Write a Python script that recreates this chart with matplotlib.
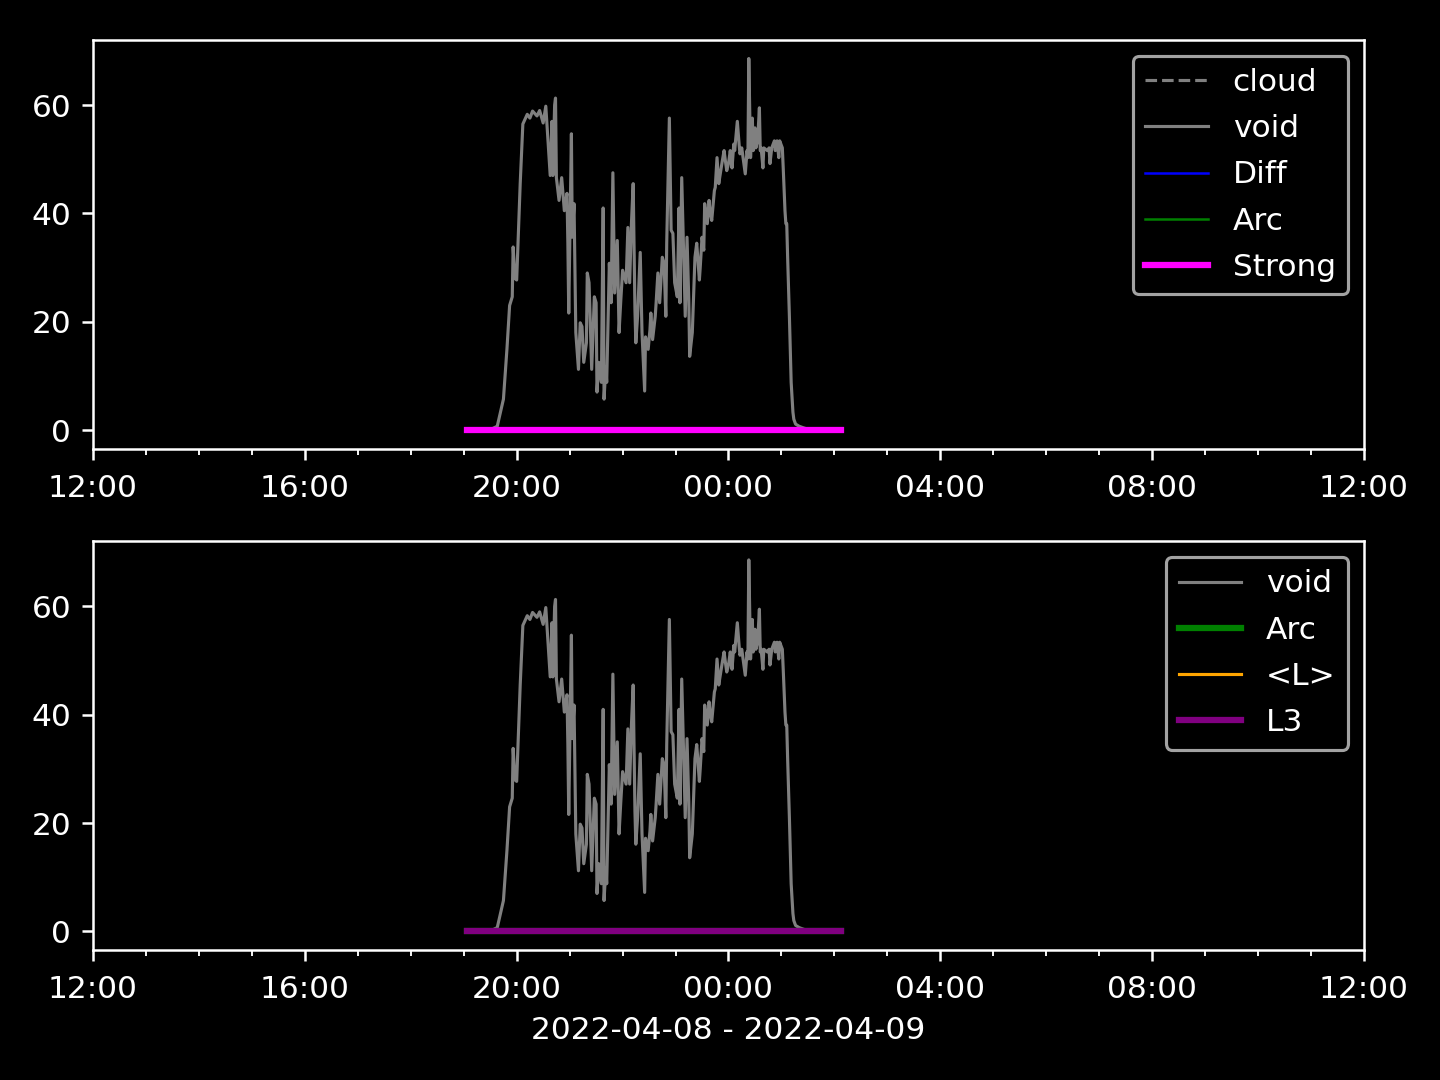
import pandas as pd
import numpy as np
import matplotlib
matplotlib.use("Agg")
import matplotlib.pyplot as plt
import matplotlib.dates as mdates

DAY = "2022-04-08"

# void reading, clock times (before noon = next day)
void_times = [
    "19:04", "19:18", "19:30", "19:38", "19:45", "19:49", "19:52", "19:55", "19:56", "19:58",
    "20:00", "20:04", "20:07", "20:12", "20:15", "20:18", "20:23", "20:26", "20:30", "20:33",
    "20:35", "20:38", "20:40", "20:41", "20:43", "20:44", "20:45", "20:48", "20:51", "20:54",
    "20:57", "20:58", "20:59", "21:02", "21:03", "21:05", "21:07", "21:10", "21:12", "21:14",
    "21:16", "21:19", "21:20", "21:22", "21:24", "21:25", "21:28", "21:30", "21:31", "21:33",
    "21:36", "21:38", "21:39", "21:41", "21:42", "21:45", "21:47", "21:49", "21:51", "21:54",
    "21:56", "21:58", "22:00", "22:04", "22:06", "22:08", "22:10", "22:12", "22:14", "22:15",
    "22:17", "22:20", "22:22", "22:25", "22:26", "22:29", "22:31", "22:32", "22:34", "22:37",
    "22:38", "22:40", "22:42", "22:45", "22:47", "22:49", "22:50", "22:53", "22:55", "22:57",
    "22:59", "23:02", "23:04", "23:05", "23:07", "23:10", "23:11", "23:13", "23:15", "23:16",
    "23:19", "23:21", "23:22", "23:24", "23:27", "23:28", "23:30", "23:32", "23:33", "23:36",
    "23:38", "23:39", "23:41", "23:44", "23:45", "23:47", "23:49", "23:50", "23:53", "23:55",
    "23:56", "23:58", "00:00", "00:02", "00:04", "00:06", "00:07", "00:10", "00:12", "00:13",
    "00:15", "00:17", "00:19", "00:21", "00:22", "00:23", "00:25", "00:27", "00:28", "00:30",
    "00:31", "00:33", "00:35", "00:36", "00:37", "00:39", "00:40", "00:44", "00:46", "00:47",
    "00:49", "00:52", "00:53", "00:55", "00:57", "00:58", "01:01", "01:02", "01:04", "01:05",
    "01:06", "01:07", "01:09", "01:11", "01:13", "01:14", "01:16", "01:20", "01:25", "01:31",
    "01:44", "02:07",
]
void_vals = [
    0.0, 0.0, 0.05, 0.7, 5.7, 15.0, 23.0, 24.6, 33.8, 28.0,
    27.7, 45.5, 56.5, 58.3, 57.6, 58.9, 58.0, 59.0, 56.7, 59.8,
    54.7, 47.0, 57.0, 47.0, 60.0, 61.3, 46.6, 42.4, 46.6, 40.5,
    43.7, 34.5, 21.6, 54.7, 35.6, 41.8, 18.0, 11.2, 19.8, 19.1,
    12.5, 16.1, 29.0, 27.2, 16.7, 11.2, 24.6, 23.5, 7.0, 12.5,
    8.8, 41.0, 5.7, 11.7, 8.8, 30.8, 23.5, 47.5, 25.3, 35.0,
    18.0, 24.0, 29.5, 27.2, 37.4, 27.2, 38.0, 45.5, 22.2, 16.1,
    21.0, 32.8, 18.0, 7.2, 17.2, 14.9, 18.5, 21.6, 16.7, 21.0,
    23.5, 29.0, 23.5, 31.9, 30.8, 21.0, 34.5, 57.6, 36.9, 36.3,
    27.2, 24.6, 41.0, 23.5, 46.6, 27.2, 21.0, 35.6, 24.0, 13.6,
    18.0, 27.2, 31.9, 34.5, 27.7, 30.1, 35.6, 33.2, 41.8, 38.1,
    42.4, 40.5, 38.7, 44.2, 44.8, 50.3, 45.5, 46.6, 49.7, 51.6,
    50.3, 47.9, 49.2, 51.6, 48.4, 52.8, 51.6, 57.0, 52.8, 51.0,
    52.1, 49.7, 47.3, 51.6, 50.3, 68.6, 50.3, 57.6, 51.6, 55.8,
    52.1, 53.4, 59.5, 51.6, 52.1, 48.4, 52.1, 51.6, 52.1, 49.2,
    52.1, 53.4, 51.6, 53.4, 50.3, 53.4, 52.1, 48.4, 40.5, 38.1,
    38.1, 31.9, 21.0, 8.8, 3.3, 2.0, 1.1, 0.7, 0.4, 0.1,
    0.0, 0.0,
]
# the other series are flat zero over the same span
cloud_vals = [0.0] * len(void_vals)
diff_vals = [0.0] * len(void_vals)
arc_vals = [0.0] * len(void_vals)
strong_vals = [0.0] * len(void_vals)
meanL_vals = [0.0] * len(void_vals)
l3_vals = [0.0] * len(void_vals)


def to_stamp(t):
    ts = pd.Timestamp(DAY + " " + t)
    if ts.hour < 12:
        ts += pd.Timedelta(days=1)
    return ts


times = [to_stamp(t) for t in void_times]
x0 = pd.Timestamp(DAY + " 12:00")
x1 = x0 + pd.Timedelta(days=1)

plt.style.use("dark_background")
plt.rcParams["xtick.major.pad"] = 4.5
fig, (ax1, ax2) = plt.subplots(2, 1, figsize=(6.4, 4.8), dpi=225)

ax1.plot(times, cloud_vals, color="gray", ls="--", lw=1, label="cloud")
ax1.plot(times, void_vals, color="gray", lw=1, label="void")
ax1.plot(times, diff_vals, color="blue", lw=0.8, label="Diff")
ax1.plot(times, arc_vals, color="green", lw=0.8, label="Arc")
ax1.plot(times, strong_vals, color="magenta", lw=2, label="Strong")

ax2.plot(times, void_vals, color="gray", lw=1, label="void")
ax2.plot(times, arc_vals, color="green", lw=2, label="Arc")
ax2.plot(times, meanL_vals, color="orange", lw=1, label="<L>")
ax2.plot(times, l3_vals, color="purple", lw=2, label="L3")

for ax in (ax1, ax2):
    ax.set_xlim(x0, x1)
    ax.xaxis.set_major_locator(mdates.HourLocator(byhour=range(0, 24, 4)))
    ax.xaxis.set_minor_locator(mdates.HourLocator())
    ax.xaxis.set_major_formatter(mdates.DateFormatter("%H:%M"))
    ax.legend(loc="upper right", labelspacing=0.55)

ax2.set_xlabel("2022-04-08 - 2022-04-09")
fig.subplots_adjust(left=0.0646, right=0.9472, top=0.963, bottom=0.1204, hspace=0.227)
plt.savefig("out.png")
